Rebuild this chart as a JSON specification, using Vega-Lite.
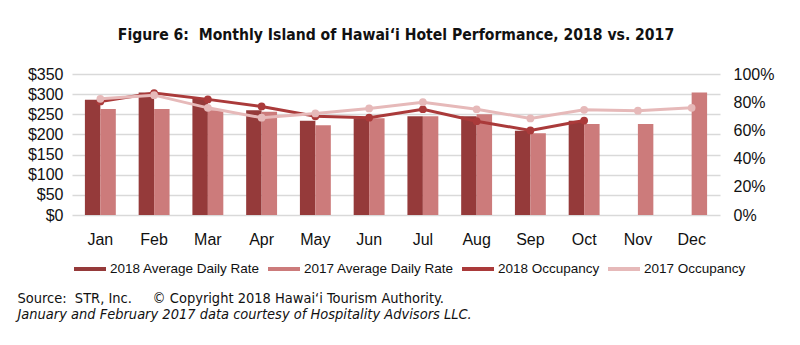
{
  "$schema": "https://vega.github.io/schema/vega-lite/v6.json",
  "padding": {"left": 17, "top": 28, "right": 5, "bottom": 5},
  "background": "white",
  "title": {
    "text": "Source:\u00a0 STR, Inc.\u00a0\u00a0\u00a0\u00a0 © Copyright 2018 Hawai‘i Tourism Authority.",
    "subtitle": "January and February 2017 data courtesy of Hospitality Advisors LLC.",
    "orient": "bottom",
    "anchor": "start",
    "frame": "bounds",
    "font": "DejaVu Sans Condensed, Liberation Sans, sans-serif",
    "fontSize": 14.5,
    "fontWeight": "normal",
    "color": "#111111",
    "subtitleFont": "DejaVu Sans Condensed, Liberation Sans, sans-serif",
    "subtitleFontSize": 14.5,
    "subtitleFontStyle": "italic",
    "subtitleColor": "#111111",
    "subtitlePadding": 1,
    "offset": 15,
    "dx": -10
  },
  "datasets": {
    "adr": [
      {"month": "Jan", "series": "2018 Average Daily Rate", "value": 286},
      {"month": "Feb", "series": "2018 Average Daily Rate", "value": 304},
      {"month": "Mar", "series": "2018 Average Daily Rate", "value": 288},
      {"month": "Apr", "series": "2018 Average Daily Rate", "value": 260},
      {"month": "May", "series": "2018 Average Daily Rate", "value": 234},
      {"month": "Jun", "series": "2018 Average Daily Rate", "value": 240},
      {"month": "Jul", "series": "2018 Average Daily Rate", "value": 245},
      {"month": "Aug", "series": "2018 Average Daily Rate", "value": 245},
      {"month": "Sep", "series": "2018 Average Daily Rate", "value": 209},
      {"month": "Oct", "series": "2018 Average Daily Rate", "value": 234},
      {"month": "Jan", "series": "2017 Average Daily Rate", "value": 263},
      {"month": "Feb", "series": "2017 Average Daily Rate", "value": 263},
      {"month": "Mar", "series": "2017 Average Daily Rate", "value": 260},
      {"month": "Apr", "series": "2017 Average Daily Rate", "value": 256},
      {"month": "May", "series": "2017 Average Daily Rate", "value": 223},
      {"month": "Jun", "series": "2017 Average Daily Rate", "value": 240},
      {"month": "Jul", "series": "2017 Average Daily Rate", "value": 245},
      {"month": "Aug", "series": "2017 Average Daily Rate", "value": 250},
      {"month": "Sep", "series": "2017 Average Daily Rate", "value": 203},
      {"month": "Oct", "series": "2017 Average Daily Rate", "value": 226},
      {"month": "Nov", "series": "2017 Average Daily Rate", "value": 226},
      {"month": "Dec", "series": "2017 Average Daily Rate", "value": 304}
    ],
    "occ": [
      {"month": "Jan", "series": "2018 Occupancy", "value": 0.805},
      {"month": "Feb", "series": "2018 Occupancy", "value": 0.865},
      {"month": "Mar", "series": "2018 Occupancy", "value": 0.82},
      {"month": "Apr", "series": "2018 Occupancy", "value": 0.77},
      {"month": "May", "series": "2018 Occupancy", "value": 0.70},
      {"month": "Jun", "series": "2018 Occupancy", "value": 0.69},
      {"month": "Jul", "series": "2018 Occupancy", "value": 0.75},
      {"month": "Aug", "series": "2018 Occupancy", "value": 0.665},
      {"month": "Sep", "series": "2018 Occupancy", "value": 0.60},
      {"month": "Oct", "series": "2018 Occupancy", "value": 0.67},
      {"month": "Jan", "series": "2017 Occupancy", "value": 0.824},
      {"month": "Feb", "series": "2017 Occupancy", "value": 0.85},
      {"month": "Mar", "series": "2017 Occupancy", "value": 0.76},
      {"month": "Apr", "series": "2017 Occupancy", "value": 0.69},
      {"month": "May", "series": "2017 Occupancy", "value": 0.72},
      {"month": "Jun", "series": "2017 Occupancy", "value": 0.756},
      {"month": "Jul", "series": "2017 Occupancy", "value": 0.80},
      {"month": "Aug", "series": "2017 Occupancy", "value": 0.75},
      {"month": "Sep", "series": "2017 Occupancy", "value": 0.685},
      {"month": "Oct", "series": "2017 Occupancy", "value": 0.746},
      {"month": "Nov", "series": "2017 Occupancy", "value": 0.74},
      {"month": "Dec", "series": "2017 Occupancy", "value": 0.76}
    ]
  },
  "vconcat": [
    {
      "width": 648,
      "height": 141,
      "title": {
        "text": "Figure 6:\u00a0 Monthly Island of Hawai‘i Hotel Performance, 2018 vs. 2017",
        "font": "DejaVu Sans Condensed, Liberation Sans, sans-serif",
        "fontSize": 15.6,
        "fontWeight": "bold",
        "color": "#111111",
        "anchor": "middle",
        "orient": "top",
        "offset": 22
      },
      "layer": [
        {
          "data": {"name": "adr"},
          "mark": {"type": "bar"},
          "encoding": {
            "x": {
              "field": "month",
              "type": "nominal",
              "scale": {"domain": ["Jan", "Feb", "Mar", "Apr", "May", "Jun", "Jul", "Aug", "Sep", "Oct", "Nov", "Dec"], "paddingInner": 0.425, "paddingOuter": 0.24},
              "axis": {"title": null, "labelAngle": 0, "ticks": false, "domain": false, "labelPadding": 16, "labelFont": "Liberation Sans", "labelFontSize": 16, "labelColor": "#111111"}
            },
            "xOffset": {
              "field": "series",
              "type": "nominal",
              "scale": {"domain": ["2018 Average Daily Rate", "2017 Average Daily Rate"], "paddingInner": 0}
            },
            "y": {
              "field": "value",
              "type": "quantitative",
              "scale": {"domain": [0, 350], "nice": false},
              "axis": {"orient": "left", "title": null, "values": [0, 50, 100, 150, 200, 250, 300, 350], "format": "$,.0f", "ticks": false, "domain": false, "grid": true, "gridColor": "#d9d9d9", "gridWidth": 1.5, "labelPadding": 9, "labelFont": "Liberation Sans", "labelFontSize": 16, "labelColor": "#111111"}
            },
            "color": {
              "field": "series",
              "type": "nominal",
              "scale": {
                "domain": ["2018 Average Daily Rate", "2017 Average Daily Rate", "2018 Occupancy", "2017 Occupancy"],
                "range": ["#953a3a", "#cc7b7b", "#aa3a3a", "#e6b9b9"]
              },
              "legend": {
                "title": null,
                "orient": "bottom",
                "direction": "horizontal",
                "offset": 4,
                "symbolType": "stroke",
                "symbolSize": 1024,
                "symbolStrokeWidth": 4,
                "labelFont": "Liberation Sans",
                "labelFontSize": 13.5,
                "labelColor": "#111111",
                "labelOffset": 2,
                "columnPadding": 0
              }
            }
          }
        },
        {
          "data": {"name": "occ"},
          "mark": {"type": "line", "strokeWidth": 3, "point": {"size": 60, "filled": true, "opacity": 1}},
          "encoding": {
            "x": {"field": "month", "type": "nominal", "scale": {"domain": ["Jan", "Feb", "Mar", "Apr", "May", "Jun", "Jul", "Aug", "Sep", "Oct", "Nov", "Dec"]}},
            "y": {
              "field": "value",
              "type": "quantitative",
              "scale": {"domain": [0, 1], "nice": false},
              "axis": {"orient": "right", "title": null, "values": [0, 0.2, 0.4, 0.6, 0.8, 1], "format": ".0%", "ticks": false, "domain": false, "grid": false, "labelPadding": 13, "labelFont": "Liberation Sans", "labelFontSize": 16, "labelColor": "#111111"}
            },
            "color": {"field": "series", "type": "nominal"}
          }
        }
      ],
      "resolve": {"scale": {"y": "independent"}}
    }
  ],
  "config": {"view": {"stroke": null}}
}
